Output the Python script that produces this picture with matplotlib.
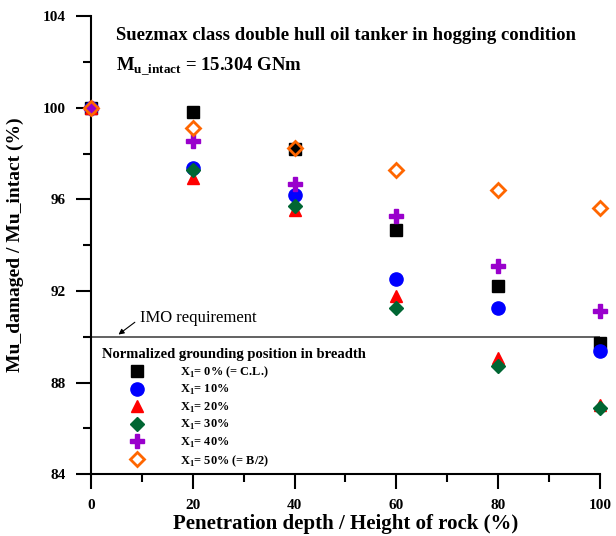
import matplotlib.pyplot as plt
from matplotlib.ticker import MultipleLocator

plt.rcParams['font.family'] = 'Liberation Serif'
plt.rcParams['mathtext.fontset'] = 'custom'
plt.rcParams['mathtext.rm'] = 'Liberation Serif'
plt.rcParams['mathtext.bf'] = 'Liberation Serif:bold'

# Penetration depth / height of rock (%)
depth = [0, 20, 40, 60, 80, 100]

# Residual ultimate strength ratio (%) per grounding position X1
x1_0 = [100, 99.83, 98.20, 94.66, 92.20, 89.75]
x1_10 = [100, 97.37, 96.20, 92.51, 91.26, 89.36]
x1_20 = [100, 96.95, 95.55, 91.77, 89.07, 87.03]
x1_30 = [100, 97.30, 95.69, 91.25, 88.74, 86.90]
x1_40 = [100, 98.53, 96.67, 95.27, 93.11, 91.13]
x1_50 = [100, 99.10, 98.25, 97.29, 96.39, 95.63]

labels = [r"X$_\mathbf{1}$= 0% (= C.L.)", r"X$_\mathbf{1}$= 10%", r"X$_\mathbf{1}$= 20%",
          r"X$_\mathbf{1}$= 30%", r"X$_\mathbf{1}$= 40%", r"X$_\mathbf{1}$= 50% (= B/2)"]

imo_limit = 90

fig = plt.figure(figsize=(6.16, 5.36), dpi=100)
ax = fig.add_axes([0.1477, 0.1151, 0.8263, 0.855])

styles = [
    dict(marker='s', color='black', ms=9),
    dict(marker='o', color='#0000FF', ms=9.5),
    dict(marker='^', color='#FF0000', ms=9),
    dict(marker='D', color='#006633', ms=7),
    dict(marker='P', color='#9900CC', ms=10),
    dict(marker='D', color='#FF6600', ms=7, mfc='none', mew=2),
]
series = [x1_0, x1_10, x1_20, x1_30, x1_40, x1_50]
for vals, lab, st in zip(series, labels, styles):
    ax.plot(depth, vals, linestyle='none', label=lab, clip_on=False, zorder=3, **st)

ax.axhline(imo_limit, color='#555555', lw=1.3, zorder=1)
ax.annotate("IMO requirement", xy=(5.4, 90.1), xytext=(9.6, 90.8),
            fontsize=12, va='center', ha='left',
            arrowprops=dict(arrowstyle='-|>', color='black', lw=0.8, mutation_scale=8,
                            shrinkA=2, shrinkB=0, relpos=(0, 0.5)))

ax.text(5.0, 102.97, "Suezmax class double hull oil tanker in hogging condition",
        fontsize=13.5, fontweight='bold')
ax.text(5.0, 101.59, r"M$_\mathbf{u\_intact}$ = 15.304 GNm", fontsize=13.5, fontweight='bold')

ax.set_xlim(0, 100)
ax.set_ylim(84, 104)
ax.xaxis.set_major_locator(MultipleLocator(20))
ax.xaxis.set_minor_locator(MultipleLocator(10))
ax.yaxis.set_major_locator(MultipleLocator(4))
ax.yaxis.set_minor_locator(MultipleLocator(2))
for side in ['top', 'right']:
    ax.spines[side].set_visible(False)
for side in ['left', 'bottom']:
    ax.spines[side].set_linewidth(1.5)
ax.tick_params(which='major', direction='out', length=11, width=1.5, pad=7, labelsize=11)
ax.tick_params(which='minor', direction='out', length=6, width=1.5)
ax.tick_params(axis='x', which='major', pad=7)
for t in ax.get_xticklabels() + ax.get_yticklabels():
    t.set_fontweight('bold')

ax.set_xlabel("Penetration depth / Height of rock (%)", fontsize=15, fontweight='bold', labelpad=1)
ax.set_ylabel("Mu_damaged / Mu_intact (%)", fontsize=14, fontweight='bold', labelpad=14)

leg = ax.legend(loc='upper left', bbox_to_anchor=(0.021, 0.275), frameon=False,
                title="Normalized grounding position in breadth",
                title_fontproperties={'weight': 'bold', 'size': 10.5},
                prop={'weight': 'bold', 'size': 8.9}, numpoints=1,
                handlelength=5.66, handletextpad=0.67, labelspacing=0.27,
                borderpad=0, borderaxespad=0, alignment='left')

fig.savefig("out.png", dpi=100)
